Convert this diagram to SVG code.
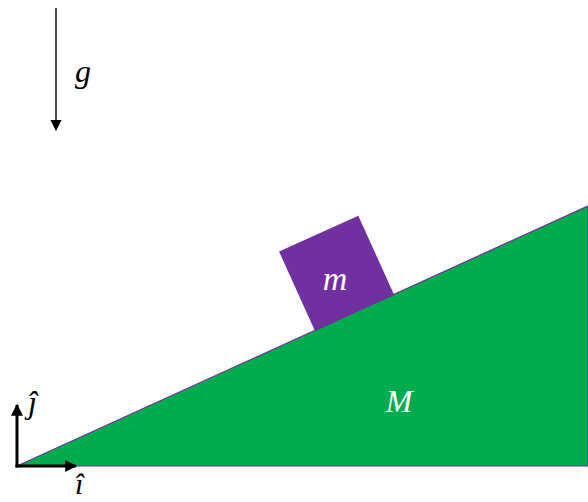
<svg xmlns="http://www.w3.org/2000/svg" width="588" height="502" viewBox="0 0 588 502">
<defs>
<style>
.lbl{font-family:"Liberation Serif","DejaVu Serif",serif;font-style:italic}
.ax{stroke:#000;stroke-width:3;fill:none}
</style>
<marker id="ah" viewBox="0 0 10 10" refX="9" refY="5" markerWidth="4" markerHeight="4" orient="auto" markerUnits="strokeWidth"><path d="M0,0 L10,5 L0,10 z" fill="#000"/></marker>
<marker id="ag" viewBox="0 0 10 10" refX="9" refY="5" markerWidth="9" markerHeight="8" orient="auto" markerUnits="strokeWidth"><path d="M0,0 L10,5 L0,10 z" fill="#000"/></marker>
</defs>
<rect width="588" height="502" fill="#fff"/>
<g id="wedge">
<polygon points="17,466 588,206 588,466" fill="#00AC4E" stroke="#7030A0" stroke-width="1.2"/>
<text class="lbl" x="399" y="412" font-size="32" fill="#fff" text-anchor="middle">M</text>
</g>
<g id="block">
<polygon points="315,331 394.2,295 358.3,215.8 279.1,251.6" fill="#7030A0"/>
<text class="lbl" x="335" y="290" font-size="34" fill="#fff" text-anchor="middle">m</text>
</g>
<g id="connectors">
<line x1="56" y1="8" x2="56" y2="130" stroke="#000" stroke-width="1.4" marker-end="url(#ag)"/>
<line class="ax" x1="17" y1="467.5" x2="17" y2="405" marker-end="url(#ah)"/>
<line class="ax" x1="15.5" y1="466" x2="76" y2="466" marker-end="url(#ah)"/>
</g>
<g id="gravity">
<text class="lbl" x="75" y="82" font-size="32" fill="#000">g</text>
</g>
<g id="axes">
<text class="lbl" x="28" y="413" font-size="32" fill="#000">ĵ</text>
<text class="lbl" x="75" y="494" font-size="30" fill="#000">î</text>
</g>
</svg>
